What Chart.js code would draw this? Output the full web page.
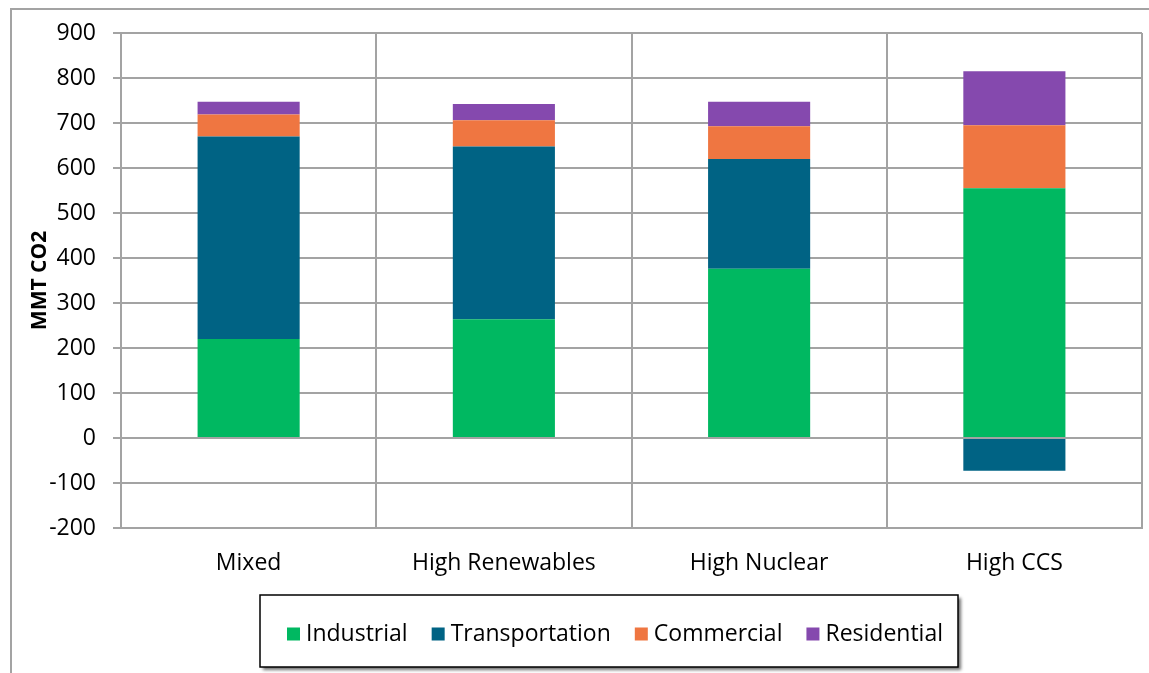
<!DOCTYPE html>
<html>
<head>
<meta charset="utf-8">
<script src="https://cdn.jsdelivr.net/npm/chart.js@4"></script>
<style>
  html, body { margin: 0; padding: 0; background: #fff; }
  #wrap { position: relative; width: 1149px; height: 673px; }
</style>
</head>
<body>
<div id="wrap"><canvas id="myChart"></canvas></div>
<script>
// categories and series (MMT CO2)
const scenarios = ['Mixed', 'High Renewables', 'High Nuclear', 'High CCS'];
const industrial = [220, 264, 376, 555];
const transportation = [450, 384, 244, -73];
const commercial = [49, 58, 73, 140];
const residential = [28, 36, 54, 120];

const seriesNames = ['Industrial', 'Transportation', 'Commercial', 'Residential'];
const seriesColors = ['#00B861', '#006384', '#EF7641', '#8549AE'];

const FONT = "'Open Sans', sans-serif";
const gridGray = '#a3a3a3';

// outer frame + custom boxed legend
const frameAndLegend = {
  id: 'frameAndLegend',
  beforeDraw(chart) {
    const ctx = chart.ctx;
    ctx.save();
    ctx.fillStyle = '#fff';
    ctx.fillRect(0, 0, chart.width, chart.height);
    ctx.strokeStyle = gridGray;
    ctx.lineWidth = 2;
    ctx.beginPath();
    ctx.moveTo(11, chart.height);
    ctx.lineTo(11, 9);
    ctx.lineTo(chart.width, 9);
    ctx.stroke();
    ctx.restore();
  },
  afterDraw(chart) {
    const ctx = chart.ctx;
    const bx = 260, by = 595, bw = 698, bh = 72;
    ctx.save();
    ctx.shadowColor = 'rgba(0,0,0,0.55)';
    ctx.shadowOffsetX = 3;
    ctx.shadowOffsetY = 3;
    ctx.shadowBlur = 3;
    ctx.fillStyle = '#fff';
    ctx.fillRect(bx, by, bw, bh);
    ctx.restore();
    ctx.save();
    ctx.strokeStyle = '#000';
    ctx.lineWidth = 1.5;
    ctx.strokeRect(bx, by, bw, bh);

    ctx.font = '23px ' + FONT;
    ctx.textBaseline = 'middle';
    const sq = 13, gap = 6, itemGap = 24;
    const sets = chart.data.datasets;
    let total = 0;
    sets.forEach((d, i) => {
      total += sq + gap + ctx.measureText(d.label).width;
      if (i < sets.length - 1) total += itemGap;
    });
    let x = bx + bw / 2 - total / 2 + 6;
    const cy = by + bh / 2 + 3;
    sets.forEach(d => {
      ctx.fillStyle = d.backgroundColor;
      ctx.fillRect(x, cy - sq / 2, sq, sq);
      x += sq + gap;
      ctx.fillStyle = '#000';
      ctx.fillText(d.label, x, cy);
      x += ctx.measureText(d.label).width + itemGap;
    });
    ctx.restore();
  }
};

const allValues = [industrial, transportation, commercial, residential];

const data = {
  labels: scenarios,
  datasets: seriesNames.map((name, i) => ({
    label: name,
    data: allValues[i],
    backgroundColor: seriesColors[i],
    borderWidth: 0,
    barPercentage: 0.4,
    categoryPercentage: 1.0
  }))
};

const config = {
  type: 'bar',
  data: data,
  options: {
    responsive: false,
    animation: false,
    layout: { padding: { left: 0, top: 33, right: 7, bottom: 0 } },
    plugins: {
      legend: { display: false },
      tooltip: { enabled: false }
    },
    scales: {
      x: {
        stacked: true,
        grid: { color: gridGray, lineWidth: 2, drawTicks: false, offset: true },
        border: { color: gridGray, width: 2 },
        ticks: { color: '#000', font: { family: FONT, size: 23 }, padding: 22 },
        afterFit(scale) { scale.height = 145; }
      },
      y: {
        stacked: true,
        min: -200,
        max: 900,
        grid: { color: gridGray, lineWidth: 2, tickLength: 8 },
        border: { color: gridGray, width: 2 },
        ticks: { stepSize: 100, color: '#000', font: { family: FONT, size: 23 }, padding: 17 },
        title: {
          display: true,
          text: 'MMT CO2',
          color: '#000',
          font: { family: FONT, size: 21, weight: 'bold' },
          padding: { top: 27, bottom: 0 }
        },
        afterFit(scale) { scale.width = 121; }
      }
    }
  },
  plugins: [frameAndLegend]
};

const canvas = document.getElementById('myChart');
canvas.width = 1149;
canvas.height = 673;
new Chart(canvas, config);
</script>
</body>
</html>
